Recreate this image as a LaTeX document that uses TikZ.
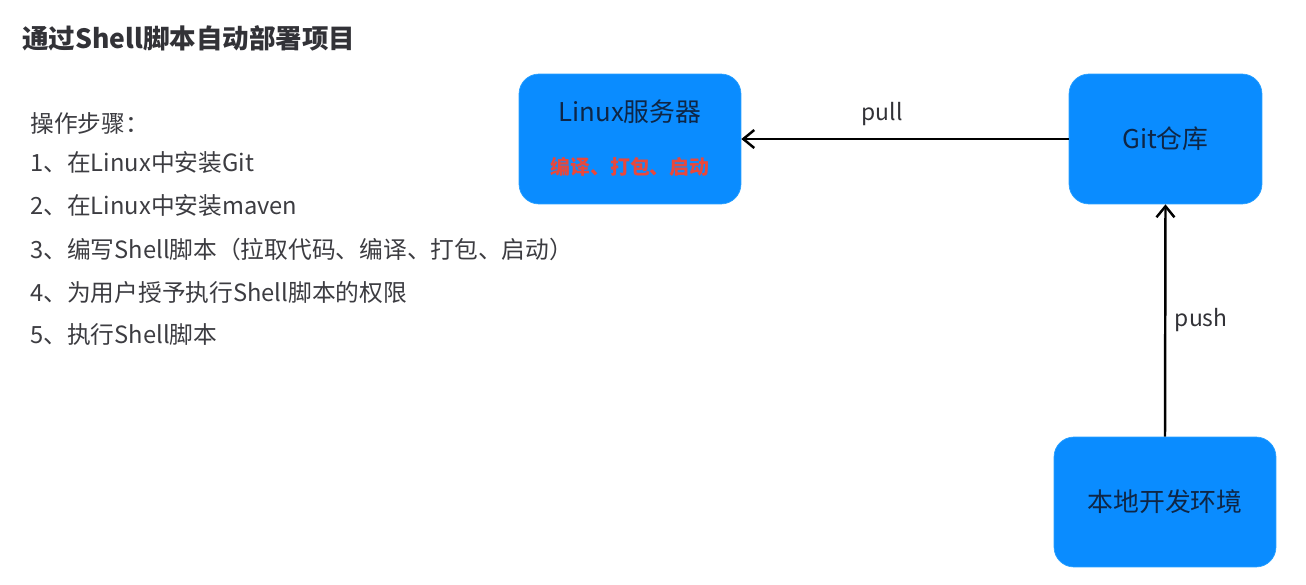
\documentclass[tikz,border=0pt]{standalone}
\usepackage{fontspec}
\setmainfont{Noto Sans CJK SC}
\usetikzlibrary{arrows.meta,positioning}

\definecolor{boxblue}{RGB}{10,140,255}
\definecolor{boxline}{RGB}{40,160,255}
\definecolor{navytext}{RGB}{14,38,70}
\definecolor{redtext}{RGB}{232,72,60}
\definecolor{titlegray}{RGB}{50,50,55}
\definecolor{stepgray}{RGB}{60,60,65}

\tikzset{
  bluebox/.style={draw=boxline, fill=boxblue, rounded corners=0.4cm,
    minimum height=2.6cm, inner sep=0pt, text=navytext,
    font=\fontsize{14.7}{17}\selectfont},
  stepline/.style={anchor=west, inner sep=0pt, text=stepgray,
    font=\fontsize{13.5}{16}\selectfont},
  flow/.style={line width=1.4pt, -{Straight Barb[length=2.2mm,width=3.6mm]}},
  flowlabel/.style={font=\fontsize{13}{16}\selectfont, text=titlegray}
}

\begin{document}
\begin{tikzpicture}[x=0.02cm, y=-0.02cm]
    \useasboundingbox (0,0) rectangle (1306,585);

    % Title
    \node[anchor=west, inner sep=0pt, text=titlegray,
      font=\fontsize{15.1}{18}\bfseries\selectfont] (title) at (22,38)
      {通过Shell脚本自动部署项目};

    % Steps
    \foreach \n/\y/\t in {0/123/操作步骤：,
        1/163/1、在Linux中安装Git,
        2/206/2、在Linux中安装maven,
        3/249/3、编写Shell脚本（拉取代码、编译、打包、启动）,
        4/292/4、为用户授予执行Shell脚本的权限,
        5/335/5、执行Shell脚本}
      \node[stepline] (step\n) at (30,\y) {\t};

    % Boxes
    \node[bluebox, minimum width=4.44cm] (linux) at (630,139) {};
    \node (linuxname) at (630,112) [text=navytext, font=\fontsize{14.7}{17}\selectfont] {Linux服务器};
    \node (linuxtask) at (630,167) [text=redtext, font=\fontsize{11.3}{14}\bfseries\selectfont] {编译、打包、启动};
    \node[bluebox, minimum width=3.86cm] (git) at (1165.5,139) {Git仓库};
    \node[bluebox, minimum width=4.44cm] (local) at (1165,502) {本地开发环境};

    % Connectors
    \draw[flow] (git.west) to node[pos=0.57, above=0.12cm, flowlabel] {pull} (linux.east);
    \draw[flow] (local.north) to node[right=0.05cm, flowlabel] {push} (git.south);
  \end{tikzpicture}
\end{document}
